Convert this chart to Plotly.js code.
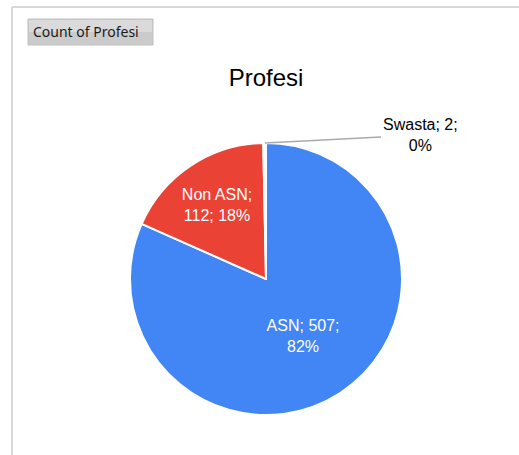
<!DOCTYPE html>
<html>
<head>
<meta charset="utf-8">
<script src="https://cdn.plot.ly/plotly-3.0.1.min.js"></script>
<style>
html,body{margin:0;padding:0;background:#fff;}
#chart{width:519px;height:455px;}
</style>
</head>
<body>
<div id="chart"></div>
<script>
const categories = ["ASN", "Non ASN", "Swasta"];
const counts = [507, 112, 2];
const sliceColors = ["#4285F4", "#EA4335", "#ffffff"];
const chartTitle = "Profesi";
const fieldButton = "Count of Profesi";

const W = 519, H = 455;
const cx = 266, cy = 279, R = 136;
const dom = {
  x: [(cx - R) / W, (cx + R) / W],
  y: [1 - (cy + R) / H, 1 - (cy - R) / H]
};

const total = counts.reduce((a, b) => a + b, 0);
const pct = counts.map(v => Math.round(100 * v / total) + "%");

const templates = [
  "%{label}; %{value};<br>%{percent:.0%}",
  "%{label};<br>%{value}; %{percent:.0%}",
  ""
];

const trace = {
  type: "pie",
  labels: categories,
  values: counts,
  sort: false,
  direction: "clockwise",
  rotation: 0,
  marker: {colors: sliceColors, line: {color: "#ffffff", width: 2}},
  texttemplate: templates,
  textposition: ["inside", "inside", "none"],
  insidetextorientation: "horizontal",
  insidetextfont: {family: "Liberation Sans, Arial, sans-serif", size: 16, color: "#ffffff"},
  hoverinfo: "label+value+percent",
  domain: dom,
  automargin: false,
  showlegend: false
};

const swIdx = 2;
const layout = {
  width: W, height: H,
  margin: {l: 0, r: 0, t: 0, b: 0},
  paper_bgcolor: "#ffffff",
  showlegend: false,
  title: {
    text: chartTitle,
    font: {family: "Liberation Sans, Arial, sans-serif", size: 24, color: "#000000"},
    x: cx / W, xanchor: "center",
    y: 1 - 78 / H, yanchor: "middle"
  },
  shapes: [
    {type: "line", xref: "paper", yref: "paper", x0: 12 / W, x1: 1, y0: 1 - 7 / H, y1: 1 - 7 / H,
     line: {color: "#d9d9d9", width: 2}},
    {type: "line", xref: "paper", yref: "paper", x0: 12 / W, x1: 12 / W, y0: 0, y1: 1 - 7 / H,
     line: {color: "#d9d9d9", width: 2}},
    {type: "rect", xref: "paper", yref: "paper", x0: 28 / W, x1: 153 / W, y0: 1 - 45 / H, y1: 1 - 19 / H,
     fillcolor: "#cbcbcb", line: {color: "#c0c0c0", width: 1}},
    {type: "rect", xref: "paper", yref: "paper", x0: 29 / W, x1: 152 / W, y0: 1 - 32 / H, y1: 1 - 20 / H,
     fillcolor: "#dadada", line: {width: 0}}
  ],
  annotations: [
    {text: fieldButton, xref: "paper", yref: "paper", x: 31 / W, y: 1 - 32 / H,
     xanchor: "left", yanchor: "middle", showarrow: false,
     font: {family: "Noto Sans, Open Sans, sans-serif", size: 14, color: "#1a1a1a"}},
    {text: categories[swIdx] + "; " + counts[swIdx] + ";<br>" + pct[swIdx],
     xref: "paper", yref: "paper", x: (cx - 1) / W, y: dom.y[1],
     showarrow: true, arrowhead: 0, arrowwidth: 1.5, arrowcolor: "#aaaaaa",
     ax: 155, ay: -8, standoff: 0, startstandoff: 0,
     font: {family: "Liberation Sans, Arial, sans-serif", size: 16, color: "#000000"}}
  ]
};

Plotly.newPlot("chart", [trace], layout, {displayModeBar: false, staticPlot: true});
</script>
</body>
</html>
